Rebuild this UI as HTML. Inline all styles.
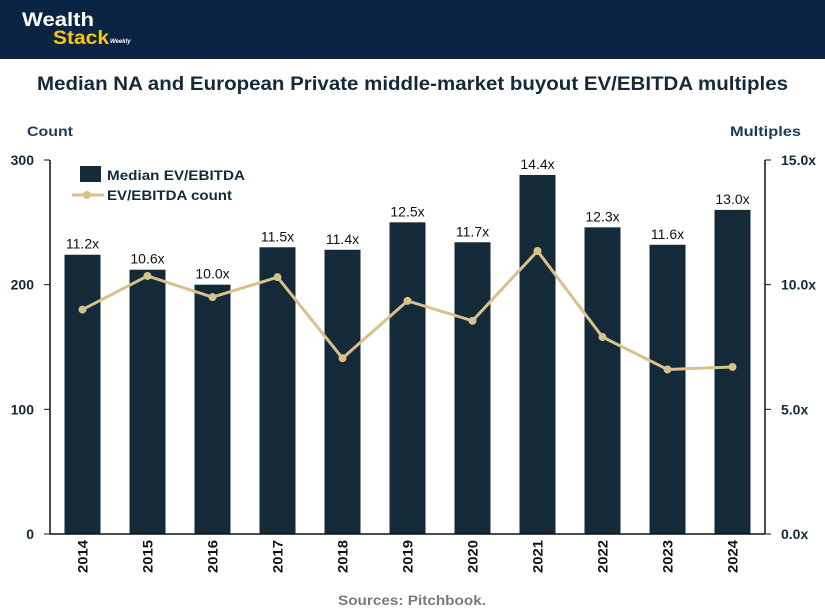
<!DOCTYPE html>
<html><head><meta charset="utf-8"><style>
body{margin:0;width:825px;height:614px;background:#fff;font-family:"Liberation Sans","DejaVu Sans",sans-serif;overflow:hidden}
.hdr{position:absolute;left:0;top:0;width:825px;height:59px;background:#0c2444}
</style></head><body>
<div class="hdr"></div>
<svg width="825" height="614" style="position:absolute;left:0;top:0">
<text x="22" y="26" font-size="19" font-weight="bold" fill="#fff" textLength="72" lengthAdjust="spacingAndGlyphs">Wealth</text>
<text x="53" y="44" font-size="19" font-weight="bold" fill="#f5c518" textLength="56" lengthAdjust="spacingAndGlyphs">Stack</text>
<text x="110" y="43" font-size="6" font-weight="bold" font-style="italic" fill="#fff">Weekly</text>
<text x="37" y="90" font-size="19" font-weight="bold" fill="#152a38" textLength="751" lengthAdjust="spacingAndGlyphs">Median NA and European Private middle-market buyout EV/EBITDA multiples</text>
<text x="27" y="136" font-size="14" font-weight="bold" fill="#1d3a5a" textLength="46" lengthAdjust="spacingAndGlyphs">Count</text>
<text x="730" y="136" font-size="14" font-weight="bold" fill="#1d3a5a" textLength="71" lengthAdjust="spacingAndGlyphs">Multiples</text>
<g id="g"></g>
<text x="338" y="605" font-size="14" font-weight="bold" fill="#7a7a7a" textLength="148" lengthAdjust="spacingAndGlyphs">Sources: Pitchbook.</text>
</svg>
<script>
const years=["2014","2015","2016","2017","2018","2019","2020","2021","2022","2023","2024"];
const multiples=[11.2,10.6,10.0,11.5,11.4,12.5,11.7,14.4,12.3,11.6,13.0];
const counts=[180,207,190,206,141,187,171,227,158,132,134];
const leftTicks=[0,100,200,300];
const rightTicks=[0,5,10,15];
const NS="http://www.w3.org/2000/svg",g=document.getElementById('g');
const X0=50,X1=765,Y0=534,Y1=160;
const band=(X1-X0)/years.length;
const xc=i=>X0+band*(i+0.5);
const yL=v=>Y0-(v/300)*(Y0-Y1);
const yR=v=>Y0-(v/15)*(Y0-Y1);
function mk(t,a,p){const e=document.createElementNS(NS,t);for(const k in a)e.setAttribute(k,a[k]);(p||g).appendChild(e);return e;}
years.forEach((y,i)=>{
 const b=mk('rect',{x:xc(i)-18,y:yR(multiples[i]),width:36,height:Y0-yR(multiples[i]),fill:'#152a38'});
 
 
 const l=mk('text',{x:xc(i),y:yR(multiples[i])-6,'text-anchor':'middle','font-size':14,fill:'#111'});
 l.textContent=multiples[i].toFixed(1)+'x';
 
 
 const t=mk('text',{transform:`translate(${xc(i)+5},${540}) rotate(-90)`,'text-anchor':'end','font-size':14,'font-weight':'bold',fill:'#111',textLength:33,lengthAdjust:'spacingAndGlyphs'});
 t.textContent=y;
 
 
});
const ln=mk('polyline',{points:counts.map((c,i)=>xc(i)+','+yL(c)).join(' '),fill:'none',stroke:'#d8c18a','stroke-width':3});


counts.forEach((c,i)=>{const d=mk('circle',{cx:xc(i),cy:yL(c),r:4,fill:'#d8c18a'});
 
 });
[[X0,Y1,X0,Y0],[X1,Y1,X1,Y0],[X0,Y0,X1,Y0]].forEach(a=>{const e=mk('line',{x1:a[0],y1:a[1],x2:a[2],y2:a[3],stroke:'#111','stroke-width':1.5});
 
 });
leftTicks.forEach(v=>{mk('line',{x1:X0-6,x2:X0,y1:yL(v),y2:yL(v),stroke:'#111'});
 const t=mk('text',{x:34,y:yL(v)+5,'text-anchor':'end','font-size':14,'font-weight':'bold',fill:'#152a38'});t.textContent=v;
 
 });
rightTicks.forEach(v=>{mk('line',{x1:X1,x2:X1+6,y1:yR(v),y2:yR(v),stroke:'#111'});
 const t=mk('text',{x:781,y:yR(v)+5,'font-size':14,'font-weight':'bold',fill:'#152a38'});t.textContent=v.toFixed(1)+'x';
 
 });
const lg=mk('g',{});


mk('rect',{x:80,y:166,width:21,height:16,fill:'#152a38'},lg);
mk('line',{x1:72,x2:104,y1:195,y2:195,stroke:'#d8c18a','stroke-width':3},lg);
mk('circle',{cx:87,cy:195,r:4,fill:'#d8c18a'},lg);
const t1=mk('text',{x:107,y:180,'font-size':14,'font-weight':'bold',fill:'#152a38',textLength:138,lengthAdjust:'spacingAndGlyphs'},lg);t1.textContent='Median EV/EBITDA';


const t2=mk('text',{x:107,y:200,'font-size':14,'font-weight':'bold',fill:'#152a38',textLength:125,lengthAdjust:'spacingAndGlyphs'},lg);t2.textContent='EV/EBITDA count';


</script>
</body></html>
